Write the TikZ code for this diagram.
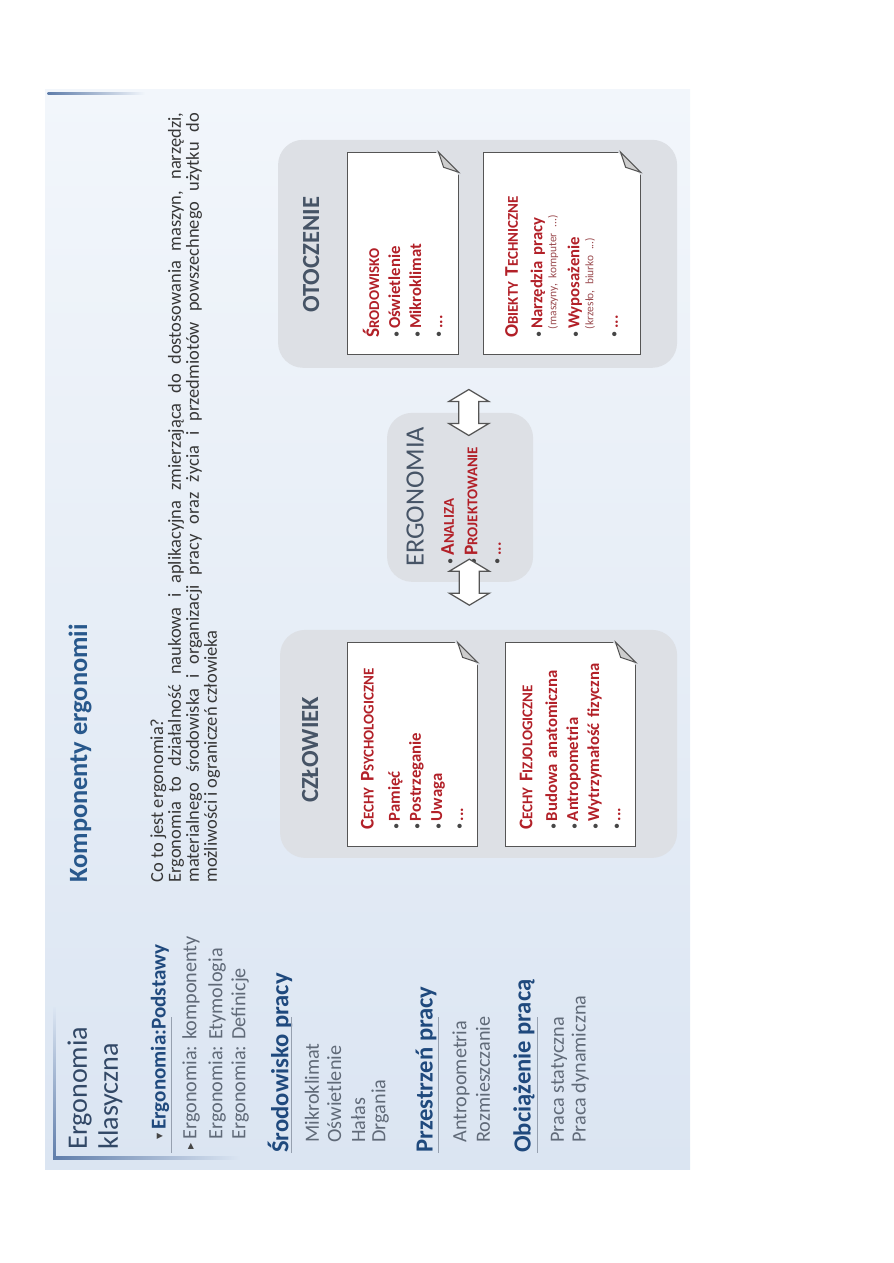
\documentclass[tikz,border=0pt]{standalone}
\usepackage{fontspec}
\setmainfont{Carlito}
\newfontfamily\symfont{DejaVu Sans}
\usetikzlibrary{calc, positioning}

\definecolor{slidebg}{RGB}{219,229,242}
\definecolor{slidebgr}{RGB}{242,246,251}
\definecolor{framebl}{RGB}{95,125,170}
\definecolor{titlebl}{RGB}{50,72,102}
\definecolor{headbl}{RGB}{31,73,125}
\definecolor{pagebl}{RGB}{40,88,140}
\definecolor{itemgr}{RGB}{96,106,120}
\definecolor{bodygr}{RGB}{55,55,55}
\definecolor{rulegr}{RGB}{150,160,175}
\definecolor{grpfill}{RGB}{221,224,229}
\definecolor{grptext}{RGB}{70,84,102}
\definecolor{cardred}{RGB}{178,32,40}
\definecolor{cardedge}{RGB}{85,85,85}
\definecolor{flapfill}{RGB}{205,205,205}
\definecolor{bulgr}{RGB}{70,70,70}

% fake small caps and card bullets
\newcommand{\fsc}[2]{{\fontsize{11}{12}\selectfont #1}{\fontsize{8.5}{12}\selectfont #2}}
\newcommand{\bul}{{\color{bulgr}\mdseries\fontsize{7}{8}\selectfont\textbullet}\,}
\newcommand{\cardnote}[1]{{\fontsize{6.5}{8}\selectfont\mdseries\color{cardred!55!gray}#1}}
\newcommand{\foldcorner}[1]{%
  \fill[grpfill, draw=grpfill, line width=1.2pt]
    (#1.south east) ++(-21,0) -- ++(21,0) -- ++(0,-21) -- cycle;
  \draw[cardedge, line width=0.6pt, fill=flapfill]
    (#1.south east) ++(-20,0) -- ++(20,-20) -- ++(-15,5) -- cycle;
}
% hollow double arrow round a named centre
\newcommand{\dblarrowat}[1]{%
  \draw[dblarrow] (#1) ++(-23,0) -- ++(12,-20) -- ++(0,10) -- ++(22,0) -- ++(0,-10)
    -- ++(12,20) -- ++(-12,20) -- ++(0,-10) -- ++(-22,0) -- ++(0,10) -- cycle;
}

\tikzset{
  titletext/.style={anchor=west, align=left, inner sep=0pt, text=titlebl,
    font=\fontsize{16}{17.6}\selectfont},
  pagetitle/.style={anchor=west, inner sep=0pt, text=pagebl,
    font=\fontsize{15}{17}\selectfont\bfseries},
  bodytext/.style={anchor=north west, inner sep=0pt, text width=15.4cm,
    align=justify, text=bodygr, font=\fontsize{10.5}{10.2}\selectfont},
  sidehead/.style={anchor=west, inner sep=0pt, text=headbl,
    font=\fontsize{14}{16}\selectfont\bfseries},
  sideitem/.style={anchor=west, inner sep=0pt, text=itemgr,
    font=\fontsize{11.5}{13}\selectfont},
  sidemark/.style={anchor=west, inner sep=0pt, text=bulgr,
    font=\symfont\fontsize{7}{8}\selectfont},
  underrule/.style={rulegr, line width=0.6pt},
  groupbox/.style={fill=grpfill, rounded corners=0.5cm, inner sep=0pt},
  grouphead/.style={inner sep=0pt, text=grptext,
    font=\fontsize{14}{16}\selectfont\bfseries},
  card/.style={draw=cardedge, fill=white, line width=0.6pt,
    inner xsep=0.34cm, inner ysep=0pt, align=left, text=cardred,
    font=\fontsize{9.5}{12}\selectfont\bfseries},
  ergtext/.style={anchor=west, align=left, inner sep=0pt, text=cardred,
    font=\fontsize{9.5}{13.4}\selectfont\bfseries},
  dblarrow/.style={draw=cardedge, fill=white, line width=0.7pt, line join=miter}
}

\begin{document}
\begin{tikzpicture}
  \useasboundingbox (0,0) rectangle (17.86,25.26);

  % slide
  \shade[bottom color=slidebg, top color=slidebgr] (0.9,1.86) rectangle (13.8,23.46);
  \shade[bottom color=framebl, top color=slidebg] (1.06,2.07) rectangle (1.11,5.1);
  \shade[left color=framebl, right color=slidebg] (1.06,2.07) rectangle (4.8,2.12);
  \shade[left color=framebl, right color=slidebgr] (0.95,23.36) rectangle (2.9,23.41);

  \begin{scope}[shift={(0.9,1.86)}, rotate=90, x=0.02cm, y=-0.02cm, transform shape]

    \node[titletext] (ttl) at (20,50) {Ergonomia\\klasyczna};
    \node[pagetitle] (ptl) at (287,35) {Komponenty ergonomii};
    \node[bodytext] (intro) at (287,105) {Co to jest ergonomia?\\
      Ergonomia to działalność naukowa i aplikacyjna zmierzająca do dostosowania maszyn, narzędzi,\linebreak
      materialnego środowiska i organizacji pracy oraz życia i przedmiotów powszechnego użytku do\linebreak
      możliwości i ograniczeń człowieka};

    % side menu
    \node[sidemark] (mk1) at (30,115) {▾};
    \node[sidehead, font=\fontsize{12}{14}\selectfont\bfseries] (sh1) at (40,115) {Ergonomia:Podstawy};
    \draw[underrule] (17,126) -- (153,126);
    \node[sidemark] (mk2) at (20,146) {▸};
    \node[sideitem] (si1) at (30,146) {Ergonomia: komponenty};
    \node[sideitem] (si2) at (30,172) {Ergonomia: Etymologia};
    \node[sideitem] (si3) at (30,195) {Ergonomia: Definicje};
    \node[sidehead] (sh2) at (17,235) {Środowisko pracy};
    \draw[underrule] (17,246) -- (153,246);
    \node[sideitem] (si4) at (27,267) {Mikroklimat};
    \node[sideitem] (si5) at (27,289) {Oświetlenie};
    \node[sideitem] (si6) at (27,313) {Hałas};
    \node[sideitem] (si7) at (27,335) {Drgania};
    \node[sidehead] (sh3) at (17,381) {Przestrzeń pracy};
    \draw[underrule] (17,393) -- (153,393);
    \node[sideitem] (si8) at (27,416) {Antropometria};
    \node[sideitem] (si9) at (27,438) {Rozmieszczanie};
    \node[sidehead] (sh4) at (17,479) {Obciążenie pracą};
    \draw[underrule] (17,492) -- (153,492);
    \node[sideitem] (si10) at (27,514) {Praca statyczna};
    \node[sideitem] (si11) at (27,535) {Praca dynamiczna};

    % groups
    \node[groupbox, minimum width=4.56cm, minimum height=7.94cm] (czl) at (426,433.5) {};
    \node[groupbox, minimum width=3.38cm, minimum height=2.92cm] (erg) at (672.5,415) {};
    \node[groupbox, minimum width=4.56cm, minimum height=7.98cm] (oto) at (916,432.5) {};

    \node[grouphead] (czlh) at (420,265) {CZŁOWIEK};
    \node[grouphead] (otoh) at (915,266) {OTOCZENIE};
    \node[grouphead, font=\fontsize{15}{17}\selectfont] (ergh) at (673,370) {ERGONOMIA};

    % cards
    \node[card, minimum height=2.6cm, text width=3.4cm] (psy) at (425,367)
      {\fsc{C}{ECHY} \fsc{P}{SYCHOLOGICZNE}\\[3pt]\bul Pamięć\\\bul Postrzeganie\\\bul Uwaga\\\bul ...};
    \node[card, minimum height=2.6cm, text width=3.4cm] (fiz) at (425,525)
      {\fsc{C}{ECHY} \fsc{F}{IZJOLOGICZNE}\\[2pt]\bul Budowa anatomiczna\\\bul Antropometria\\\bul Wytrzymałość fizyczna\\\bul ...};
    \node[card, minimum height=2.22cm, text width=3.36cm] (srod) at (916,357.5)
      {\fsc{Ś}{RODOWISKO}\\\bul Oświetlenie\\\bul Mikroklimat\\\bul ...};
    \node[card, minimum height=3.14cm, text width=3.36cm] (tech) at (916,516.5)
      {\fsc{O}{BIEKTY} \fsc{T}{ECHNICZNE}\\[2pt]\bul Narzędzia pracy\\[-4pt]\hspace*{5pt}\cardnote{(maszyny, komputer ...)}\\[1pt]\bul Wyposażenie\\[-4pt]\hspace*{5pt}\cardnote{(krzesło, biurko ...)}\\[2pt]\bul ...};
    \foldcorner{psy}
    \foldcorner{fiz}
    \foldcorner{srod}
    \foldcorner{tech}

    \node[ergtext] (ergl) at (605,426) {\bul\fsc{A}{NALIZA}\\\bul\fsc{P}{ROJEKTOWANIE}\\\bul ...};

    % arrows
    \coordinate (m1) at ($(czl.east)!0.5!(erg.west)$);
    \coordinate (m2) at ($(erg.east)!0.5!(oto.west)$);
    \coordinate (ar1) at (erg.west |- m1);
    \coordinate (ar2) at (erg.east |- m2);
    \dblarrowat{ar1}
    \dblarrowat{ar2}
  \end{scope}
\end{tikzpicture}
\end{document}
